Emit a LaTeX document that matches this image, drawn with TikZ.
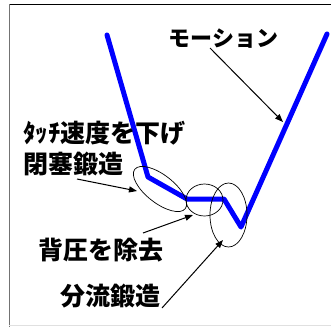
\documentclass[tikz,border=0pt]{standalone}
\usepackage{fontspec}
\newfontfamily\cjk{Noto Sans CJK JP}
\usetikzlibrary{arrows.meta,shapes.geometric}
\begin{document}
\begin{tikzpicture}[x=1pt,y=-1pt,
  lbl/.style={font=\cjk\bfseries\fontsize{25}{25}\selectfont, inner sep=0pt},
  callout/.style={draw=black, line width=1pt, -{Triangle[length=8pt,width=6pt]}},
  ring/.style={draw=black, line width=0.7pt},
  motion/.style={draw=blue, line width=5pt, line join=round, line cap=round}]
\useasboundingbox (0,0) rectangle (331,327);
% frame
\draw[black, line width=1pt] (9,4.5) -- (331,4.5);
\draw[black!55, line width=1.5pt] (9.5,4) -- (9.5,327);
\draw[black!12, line width=1pt] (9,325.5) -- (331,325.5);
% motion curve
\coordinate (p0) at (107,35);
\coordinate (p1) at (148,177);
\coordinate (p2) at (187,199);
\coordinate (p3) at (224,199);
\coordinate (p4) at (241,227);
\coordinate (p5) at (327,34);
\draw[motion] (p0) -- (p1) -- (p2) -- (p3) -- (p4) -- (p5);
% ellipses
\node[ring, ellipse, minimum width=64pt, minimum height=28pt, inner sep=0pt, rotate=-38] (e1) at (160,189) {};
\node[ring, ellipse, minimum width=37pt, minimum height=32pt, inner sep=0pt] (e2) at (204.5,200) {};
\node[ring, ellipse, minimum width=37pt, minimum height=64pt, inner sep=0pt] (e3) at (228.5,215) {};
% labels
\node[lbl, font=\cjk\bfseries\fontsize{22}{22}\selectfont] (mot) at (223.5,39) {モーション};
\node[lbl, anchor=west] (touch) at (23,133) {ﾀｯﾁ速度を下げ};
\node[lbl, anchor=west] (closed) at (23,163.5) {閉塞鍛造};
\node[lbl] (back) at (101,250) {背圧を除去};
\node[lbl] (div) at (110,296.5) {分流鍛造};
% callouts
\coordinate (a0) at (210,48);  \coordinate (a1) at (283,122);
\coordinate (b0) at (77,179);  \coordinate (b1) at (137,191);
\coordinate (c0) at (143,233); \coordinate (c1) at (193,215);
\coordinate (d0) at (162,308); \coordinate (d1) at (223,240);
\draw[callout] (a0) -- (a1);
\draw[callout] (b0) -- (b1);
\draw[callout] (c0) -- (c1);
\draw[callout] (d0) -- (d1);
\end{tikzpicture}
\end{document}
